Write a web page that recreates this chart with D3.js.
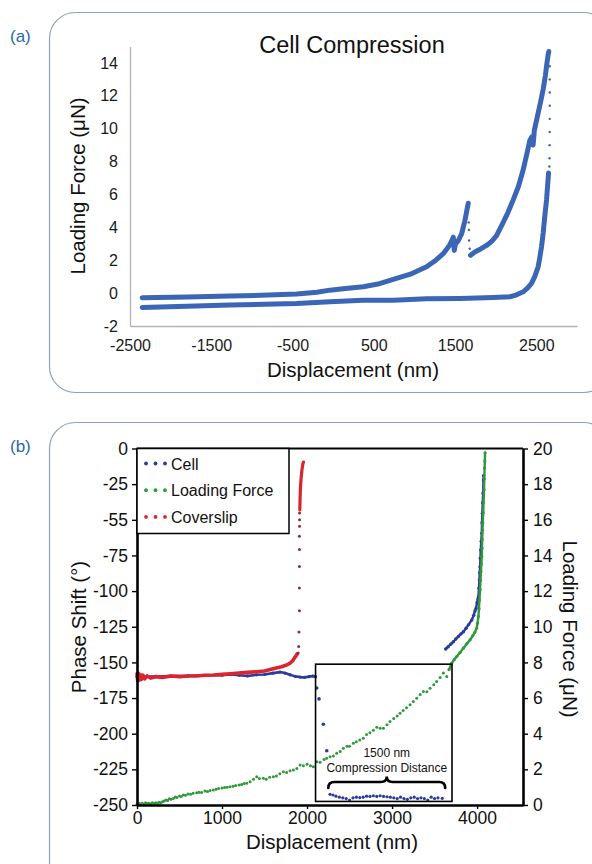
<!DOCTYPE html>
<html>
<head>
<meta charset="utf-8">
<script src="https://cdn.jsdelivr.net/npm/d3@7"></script>
<style>
  body { margin: 0; background: #fff; }
  svg { display: block; font-family: "Liberation Sans", Arial, sans-serif; }
</style>
</head>
<body>
<svg id="chart" width="592" height="864"></svg>
<script>
// ---------- panel (a): displacement (nm) vs loading force (uN) ----------
const approachTrace = [[-2350,-0.28],[-1800,-0.24],[-1270,-0.18],[-800,-0.12],[-450,-0.06],[-200,0.05],[-40,0.18],[150,0.28],[370,0.39],[550,0.55],[739,0.83],[950,1.15],[1149,1.6],[1250,1.95],[1354,2.4],[1430,2.9],[1460,3.2],[1478,3.4],[1490,2.6],[1505,3.0],[1540,3.2],[1580,3.6],[1620,4.4],[1662,5.47]];
const jumpDots = [[1668,4.3],[1670,3.84],[1672,3.2],[1680,2.7]];
const reloadTrace = [[1690,2.3],[1743,2.5],[1820,2.7],[1887,2.9],[1950,3.15],[2010,3.5],[2092,4.3],[2150,4.9],[2215,5.67],[2280,6.5],[2338,7.5],[2380,8.4],[2420,9.3],[2445,9.5],[2460,9.0],[2475,9.9],[2522,10.96],[2555,11.7],[2584,12.4],[2610,13.2],[2625,13.8],[2645,14.5],[2653,14.7]];
const retractDots = [[2662,14.6],[2664,13.8],[2665,13.0],[2665,12.2],[2665,11.4],[2664,10.6],[2664,9.8],[2663,9.0],[2662,8.2],[2660,7.7]];
const retractTrace = [[2650,7.3],[2625,5.67],[2600,4.5],[2584,3.66],[2563,2.8],[2540,2.1],[2522,1.6],[2480,1.0],[2440,0.59],[2390,0.3],[2338,0.08],[2250,-0.12],[2174,-0.22],[1969,-0.27],[1559,-0.33],[1149,-0.35],[739,-0.43],[370,-0.43],[-40,-0.53],[-450,-0.63],[-1270,-0.73],[-1800,-0.8],[-2350,-0.87]];
const aXTicks = [-2500, -1500, -500, 500, 1500, 2500];
const aYTicks = [-2, 0, 2, 4, 6, 8, 10, 12, 14];

// ---------- panel (b): displacement (nm) vs phase shift (deg) / loading force (uN) ----------
const coverslipTrace = [[0,-158],[8,-163],[16,-157.5],[24,-162.5],[36,-158.5],[50,-162],[70,-159],[90,-161.5],[120,-159.5],[160,-161],[220,-160],[300,-160.5],[400,-159.5],[500,-160],[600,-159.5],[700,-159.5],[800,-159],[900,-158.8],[1000,-158.4],[1100,-158],[1200,-157.5],[1300,-157],[1400,-156.5],[1500,-156],[1600,-154.5],[1700,-153],[1760,-151.8],[1800,-150.5],[1830,-149],[1850,-147],[1870,-145.5],[1885,-144]];
const coverslipSpike = [[1895,-143.4],[1902,-138.8],[1905,-128.7],[1910,-113.8],[1910,-97.8],[1910,-82.7],[1910,-70.9],[1910,-61.6],[1912,-54.6],[1912,-49.9],[1912,-45.2]];
const coverslipTop = [[1915,-43],[1918,-35],[1922,-28],[1930,-21],[1940,-15],[1950,-11],[1958,-9.5]];

const cellTrace = [[0,-160],[200,-160],[400,-159.5],[600,-159.5],[800,-159],[1000,-159],[1100,-158.5],[1200,-159],[1300,-159.5],[1408,-158.7],[1500,-158.5],[1600,-157.5],[1682,-156.8],[1740,-157.5],[1800,-158.7],[1860,-159.8],[1918,-160.3],[1970,-160.5],[2020,-160],[2070,-159.6],[2100,-160]];
const cellDrop = [[2114,-168],[2141,-175.6],[2192,-193.4],[2232,-212]];
const cellFloor = [[2270,-242.5],[2305,-243],[2340,-243.8],[2380,-244.5],[2420,-245],[2460,-245.5],[2500,-246.5],[2540,-245],[2580,-244.5],[2620,-244.8],[2660,-244.5],[2700,-243.8],[2740,-244],[2780,-243.5],[2820,-244],[2860,-243.5],[2900,-244],[2940,-244.2],[2980,-244.5],[3020,-245],[3060,-245.5],[3100,-244.5],[3140,-245.5],[3180,-246],[3220,-245],[3260,-244.5],[3300,-245.5],[3340,-245],[3380,-245.5],[3420,-246.5],[3460,-244.5],[3500,-245.5],[3540,-245],[3590,-245.3]];
const cellRise = [[3631,-140.6],[3660,-139],[3690,-137.2],[3721,-135.5],[3750,-133.6],[3780,-131.8],[3810,-130],[3839,-128.5],[3870,-126],[3900,-123.5],[3937,-120.3],[3960,-117],[3975,-114],[3988,-112],[4000,-108],[4010,-105.5],[4016,-103.9],[4022,-98],[4027,-92.2],[4031,-87],[4035,-82.9],[4039,-77],[4043,-71.2],[4049,-65],[4055,-59.5],[4058,-52],[4062,-45.4],[4066,-38],[4071,-31.4],[4075,-22.1],[4077,-19]];

const forceDots = [[0,0.05],[20,0.1],[40,0.05],[60,0.1],[80,0.06],[100,0.12],[120,0.08],[140,0.1],[160,0.05],[180,0.12],[200,0.08],[220,0.12],[240,0.1],[260,0.15],[280,0.12],[300,0.18],[320,0.22],[340,0.28],[360,0.25],[380,0.35],[400,0.32],[427,0.37],[450,0.45],[470,0.42],[500,0.5],[520,0.48],[545,0.56],[570,0.55],[600,0.62],[630,0.6],[660,0.66],[702,0.69],[730,0.72],[760,0.7],[800,0.78],[830,0.76],[860,0.82],[898,0.84],[930,0.88],[960,0.93],[1000,0.95],[1030,0.98],[1060,1.0],[1094,1.03],[1130,1.05],[1160,1.1],[1200,1.12],[1230,1.15],[1260,1.2],[1290,1.22],[1330,1.3],[1370,1.45],[1408,1.59],[1440,1.48],[1486,1.5],[1520,1.45],[1560,1.55],[1604,1.59],[1640,1.62],[1680,1.75],[1722,1.87],[1760,1.82],[1800,1.92],[1839,1.97],[1880,2.05],[1918,2.25],[1957,2.2],[2000,2.28],[2040,2.2],[2074,2.15],[2114,2.43],[2153,2.4],[2200,2.55],[2231,2.62],[2271,2.71],[2310,2.75],[2349,2.9],[2390,3.0],[2427,3.18],[2470,3.3],[2500,3.3],[2545,3.47],[2580,3.55],[2620,3.65],[2662,3.75],[2700,3.95],[2740,4.05],[2780,4.2],[2820,4.36],[2860,4.3],[2898,4.31],[2940,4.5],[2976,4.68],[3020,4.85],[3060,5.0],[3094,5.15],[3130,5.3],[3170,5.45],[3212,5.62],[3250,5.8],[3290,5.99],[3330,6.2],[3369,6.37],[3410,6.35],[3447,6.55],[3490,6.75],[3525,6.93],[3565,7.15],[3604,7.4],[3643,7.21]];
const forceTrace = [[3670,7.6],[3702,7.96],[3730,8.15],[3761,8.33],[3800,8.55],[3839,8.8],[3880,9.05],[3918,9.27],[3950,9.5],[3975,9.7],[3996,9.93],[4005,10.2],[4016,10.58],[4022,11.0],[4028,11.5],[4035,12.08],[4040,12.6],[4045,13.1],[4050,13.5],[4055,13.95],[4058,14.4],[4060,14.9],[4063,15.4],[4067,15.83],[4072,16.4],[4076,17.0],[4082,17.7],[4085,18.3],[4088,18.9],[4091,19.3],[4094,19.76]];

const phaseTicks = [0, -25, -50, -75, -100, -125, -150, -175, -200, -225, -250];
const phaseTickLabels = ["0", "-25", "-55", "-75", "-100", "-125", "-150", "-175", "-200", "-225", "-250"];
const forceTicks = [0, 2, 4, 6, 8, 10, 12, 14, 16, 18, 20];
const bXTicks = [0, 1000, 2000, 3000, 4000];
const legendNames = ["Cell", "Loading Force", "Coverslip"];
const insetNote = ["1500 nm", "Compression Distance"];

const svg = d3.select("#chart");
const blueA = "#3b66b6";
const cellColor = "#2c3b9b", forceColor = "#30993c", slipColor = "#d9252e", slipDark = "#8b3036";
const frameColor = "#8fa2b6", labelBlue = "#2a68a6";
const plain = d => String(d);  // no thousands separators, ascii minus

// panel frames
svg.append("rect").attr("x", 49.5).attr("y", 12.5).attr("width", 560).attr("height", 380)
  .attr("rx", 26).attr("fill", "none").attr("stroke", frameColor).attr("stroke-width", 1.2);
svg.append("rect").attr("x", 49.5).attr("y", 422.5).attr("width", 560).attr("height", 470)
  .attr("rx", 26).attr("fill", "none").attr("stroke", frameColor).attr("stroke-width", 1.2);
svg.append("text").attr("x", 10).attr("y", 42).attr("fill", labelBlue).attr("font-size", 17).text("(a)");
svg.append("text").attr("x", 10).attr("y", 452).attr("fill", labelBlue).attr("font-size", 17).text("(b)");

// ================= panel (a) =================
const xA = d3.scaleLinear().domain([-2500, 3000]).range([130, 577]);
const yA = d3.scaleLinear().domain([-2, 15]).range([326, 46.5]);
const lineA = d3.line().x(d => xA(d[0])).y(d => yA(d[1]));

const gA = svg.append("g");
const axA = gA.append("g").attr("transform", "translate(0,326)")
  .call(d3.axisBottom(xA).tickValues(aXTicks).tickFormat(plain).tickSize(0).tickPadding(14).tickSizeOuter(0));
const ayA = gA.append("g").attr("transform", "translate(130,0)")
  .call(d3.axisLeft(yA).tickValues(aYTicks).tickFormat(plain).tickSize(0).tickPadding(12).tickSizeOuter(0));
[axA, ayA].forEach(a => {
  a.attr("font-size", 16).attr("font-family", null);
  a.select(".domain").attr("stroke", "#b4b4b4").attr("stroke-width", 1.3);
  a.selectAll("text").attr("fill", "#1a1a1a");
});

[approachTrace, reloadTrace, retractTrace].forEach(tr => {
  gA.append("path").datum(tr).attr("d", lineA).attr("fill", "none")
    .attr("stroke", blueA).attr("stroke-width", 5).attr("stroke-linejoin", "round").attr("stroke-linecap", "round");
});
gA.selectAll("circle.sparse").data(jumpDots.concat(retractDots)).enter().append("circle")
  .attr("class", "sparse").attr("cx", d => xA(d[0])).attr("cy", d => yA(d[1])).attr("r", 1.2).attr("fill", blueA);

gA.append("text").attr("x", 352).attr("y", 52.5).attr("text-anchor", "middle")
  .attr("font-size", 23.5).attr("fill", "#111").text("Cell Compression");
gA.append("text").attr("x", 353).attr("y", 377).attr("text-anchor", "middle")
  .attr("font-size", 20.5).attr("fill", "#111").text("Displacement (nm)");
gA.append("text").attr("transform", "translate(85,186) rotate(-90)").attr("text-anchor", "middle")
  .attr("font-size", 20.5).attr("fill", "#111").text("Loading Force (μN)");

// ================= panel (b) =================
const xB = d3.scaleLinear().domain([0, 4540]).range([137, 523]);
const yP = d3.scaleLinear().domain([-250, 0]).range([805, 448.5]);
const yF = d3.scaleLinear().domain([0, 20]).range([805, 448.5]);
const gB = svg.append("g");

const linePhase = d3.line().x(d => xB(d[0])).y(d => yP(d[1]));
const lineForce = d3.line().x(d => xB(d[0])).y(d => yF(d[1]));

function trace(data, line, color, width) {
  gB.append("path").datum(data).attr("d", line).attr("fill", "none").attr("stroke", color)
    .attr("stroke-width", width).attr("stroke-linejoin", "round").attr("stroke-linecap", "round");
}
function dots(data, ys, color, r) {
  gB.append("g").selectAll("circle").data(data).enter().append("circle")
    .attr("cx", d => xB(d[0])).attr("cy", d => ys(d[1])).attr("r", r).attr("fill", color);
}

// cell (blue)
trace(cellTrace, linePhase, cellColor, 2.6);
dots(cellTrace, yP, cellColor, 1.6);
dots(cellDrop, yP, cellColor, 1.8);
dots(cellFloor, yP, cellColor, 1.6);
trace(cellRise, linePhase, cellColor, 2.4);
dots(cellRise, yP, cellColor, 1.7);
// loading force (green, right axis)
dots(forceDots, yF, forceColor, 1.5);
trace(forceTrace, lineForce, forceColor, 2.4);
dots(forceTrace, yF, forceColor, 1.6);
// coverslip (red)
trace(coverslipTrace, linePhase, slipColor, 3.6);
dots(coverslipSpike, yP, slipDark, 1.5);
trace(coverslipTop, linePhase, slipColor, 3.2);

// axes
const ayP = gB.append("g").attr("transform", "translate(137,0)")
  .call(d3.axisLeft(yP).tickValues(phaseTicks).tickFormat((d, i) => phaseTickLabels[i]).tickSize(5).tickPadding(4).tickSizeOuter(0));
const ayF = gB.append("g").attr("transform", "translate(523,0)")
  .call(d3.axisRight(yF).tickValues(forceTicks).tickFormat(plain).tickSize(5).tickPadding(5).tickSizeOuter(0));
const axB = gB.append("g").attr("transform", "translate(0,805)")
  .call(d3.axisBottom(xB).tickValues(bXTicks).tickFormat(plain).tickSize(4).tickPadding(3).tickSizeOuter(0));
[ayP, ayF, axB].forEach(a => {
  a.attr("font-size", 17.5).attr("font-family", null);
  a.select(".domain").attr("stroke", "#000").attr("stroke-width", 2.6);
  a.selectAll(".tick line").attr("stroke", "#000").attr("stroke-width", 1.4);
  a.selectAll("text").attr("fill", "#111");
});
gB.append("line").attr("x1", 137).attr("x2", 523).attr("y1", 448.5).attr("y2", 448.5)
  .attr("stroke", "#000").attr("stroke-width", 2);

// legend
const leg = gB.append("g");
leg.append("rect").attr("x", 137).attr("y", 448.5).attr("width", 152).attr("height", 85)
  .attr("fill", "#fff").attr("stroke", "#000").attr("stroke-width", 1.5);
const legColors = [cellColor, forceColor, slipColor];
legendNames.forEach((name, i) => {
  const cy = 463.5 + i * 26.7;
  [146, 155.5, 165].forEach(cx => leg.append("circle").attr("cx", cx).attr("cy", cy).attr("r", 1.9).attr("fill", legColors[i]));
  leg.append("text").attr("x", 171).attr("y", cy + 6).attr("font-size", 16).attr("fill", "#111").text(name);
});

// inset box with compression note
const ix0 = xB(2100), ix1 = xB(3705), iy0 = yF(7.9), iy1 = yF(0.2);
gB.append("rect").attr("x", ix0).attr("y", iy0).attr("width", ix1 - ix0).attr("height", iy1 - iy0)
  .attr("fill", "none").attr("stroke", "#000").attr("stroke-width", 1.6);
const midX = (xB(2250) + xB(3625)) / 2;
gB.append("text").attr("x", midX).attr("y", 757).attr("text-anchor", "middle").attr("font-size", 12).attr("fill", "#111").text(insetNote[0]);
gB.append("text").attr("x", midX).attr("y", 771.5).attr("text-anchor", "middle").attr("font-size", 12).attr("fill", "#111").text(insetNote[1]);
const bx1 = xB(2250), bx2 = xB(3625), yEnd = 788, yTip = 776.5, yMid = 782, q = 6;
gB.append("path")
  .attr("d", `M${bx1},${yEnd} Q${bx1},${yMid} ${bx1 + q},${yMid} L${midX - q},${yMid} Q${midX},${yMid} ${midX},${yTip} Q${midX},${yMid} ${midX + q},${yMid} L${bx2 - q},${yMid} Q${bx2},${yMid} ${bx2},${yEnd}`)
  .attr("fill", "none").attr("stroke", "#000").attr("stroke-width", 2.6).attr("stroke-linecap", "round");

// axis titles
gB.append("text").attr("transform", "translate(86,627) rotate(-90)").attr("text-anchor", "middle")
  .attr("font-size", 20.5).attr("fill", "#111").text("Phase Shift (°)");
gB.append("text").attr("transform", "translate(563,629) rotate(90)").attr("text-anchor", "middle")
  .attr("font-size", 20.5).attr("fill", "#111").text("Loading Force (μN)");
gB.append("text").attr("x", 332).attr("y", 849).attr("text-anchor", "middle")
  .attr("font-size", 20.5).attr("fill", "#111").text("Displacement (nm)");
</script>
</body>
</html>
